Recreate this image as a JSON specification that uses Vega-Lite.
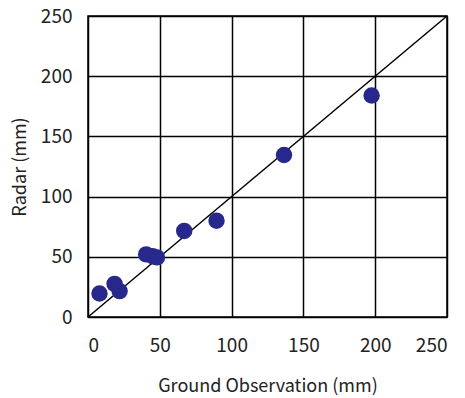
{
  "$schema": "https://vega.github.io/schema/vega-lite/v6.json",
  "width": 359,
  "height": 301,
  "autosize": {"type": "none"},
  "padding": {"left": 88, "top": 16, "right": 18, "bottom": 81},
  "background": "white",
  "config": {
    "view": {"stroke": "black", "strokeWidth": 1.5},
    "axis": {
      "grid": true,
      "gridColor": "black",
      "gridOpacity": 1,
      "gridWidth": 1.5,
      "domain": false,
      "ticks": false,
      "labelFont": "Noto Sans CJK JP",
      "labelFontSize": 19,
      "labelColor": "#222",
      "titleFont": "Noto Sans CJK JP",
      "titleFontSize": 18,
      "titleFontWeight": "normal",
      "titleColor": "#222"
    }
  },
  "datasets": {
    "pts": [
      {"ground": 8, "radar": 19.5},
      {"ground": 18.5, "radar": 27.5},
      {"ground": 22, "radar": 21.5},
      {"ground": 40.5, "radar": 52},
      {"ground": 45, "radar": 50.5},
      {"ground": 48, "radar": 49.5},
      {"ground": 67, "radar": 71.5},
      {"ground": 89.5, "radar": 80},
      {"ground": 136.5, "radar": 134.5},
      {"ground": 197.5, "radar": 184}
    ],
    "diag": [
      {"ground": 0, "radar": 0},
      {"ground": 250, "radar": 250}
    ]
  },
  "layer": [
    {
      "data": {"name": "diag"},
      "mark": {"type": "line", "color": "black", "strokeWidth": 1.5},
      "encoding": {
        "x": {"field": "ground", "type": "quantitative"},
        "y": {"field": "radar", "type": "quantitative"}
      }
    },
    {
      "data": {"name": "pts"},
      "mark": {"type": "circle", "color": "#28288c", "opacity": 1, "size": 270},
      "encoding": {
        "x": {
          "field": "ground",
          "type": "quantitative",
          "scale": {"domain": [0, 250], "nice": false},
          "axis": {"values": [0, 50, 100, 150, 200, 250], "labelPadding": 19, "title": "Ground Observation (mm)", "titlePadding": 22}
        },
        "y": {
          "field": "radar",
          "type": "quantitative",
          "scale": {"domain": [0, 250], "nice": false},
          "axis": {"values": [0, 50, 100, 150, 200, 250], "labelPadding": 16, "title": "Radar (mm)", "titlePadding": 11}
        }
      }
    }
  ]
}
